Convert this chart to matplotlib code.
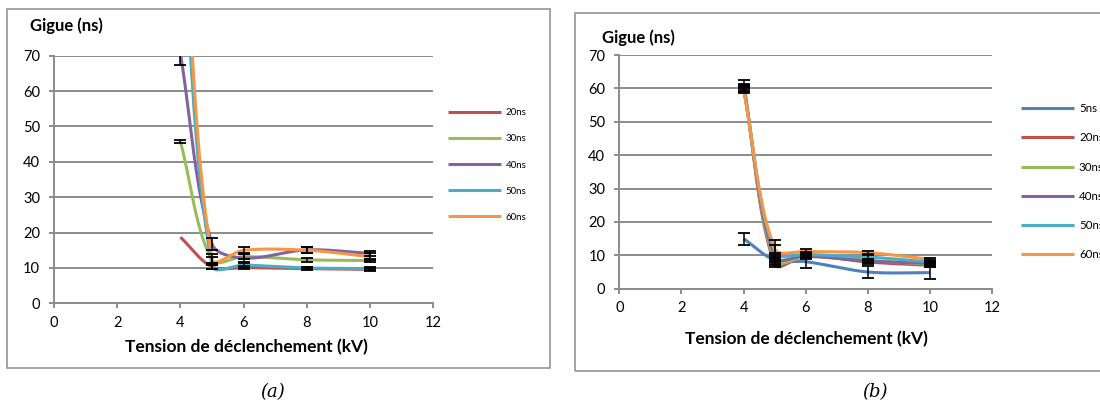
import numpy as np
import matplotlib
matplotlib.use("Agg")
import matplotlib.pyplot as plt
from matplotlib.patches import Rectangle

plt.rcParams['font.family'] = ['Lato', 'DejaVu Sans']

# ---------------- data ----------------
voltage = [4, 5, 6, 8, 10]

# panel (a)
labels_a = ["20ns", "30ns", "40ns", "50ns", "60ns"]
a_20 = [18.7, 10.3, 10.1, 9.8, 9.6]
a_30 = [45.7, 12.2, 13.2, 12.3, 12.1]
a_40 = [70.5, 16.8, 12.8, 15.1, 14.1]
a_50 = [110.0, 10.6, 10.8, 10.0, 9.8]
a_60 = [125.0, 12.4, 15.0, 15.0, 13.2]
e_a20 = [np.nan, 0.6, 0.5, 0.4, 0.4]
e_a30 = [0.5, 0.8, 0.8, 0.5, 0.5]
e_a40 = [3.0, 1.8, 1.0, 0.8, 0.8]
e_a50 = [2.0, 0.8, 0.7, 0.4, 0.5]
e_a60 = [2.0, 1.5, 0.8, 0.8, 0.9]

# panel (b)
labels_b = ["5ns", "20ns", "30ns", "40ns", "50ns", "60ns"]
b_5 = [15.0, 8.6, 8.1, 5.0, 4.8]
b_20 = [61.5, 7.3, 9.8, 8.0, 7.0]
b_30 = [60.5, 8.3, 9.6, 8.5, 7.3]
b_40 = [60.0, 9.5, 9.8, 8.3, 7.6]
b_50 = [60.0, 11.0, 10.3, 9.5, 8.0]
b_60 = [59.5, 12.0, 11.2, 10.8, 8.8]
e_b5 = [1.8, 1.5, 1.9, 1.8, 1.8]
e_b20 = [1.0, 0.8, 0.6, 0.6, 0.6]
e_b30 = [0.8, 1.0, 0.6, 0.5, 0.6]
e_b40 = [0.8, 1.2, 0.7, 0.6, 0.6]
e_b50 = [1.0, 2.0, 0.8, 0.6, 0.7]
e_b60 = [0.8, 2.5, 0.6, 0.5, 0.5]

xticks = [0, 2, 4, 6, 8, 10, 12]
yticks = [0, 10, 20, 30, 40, 50, 60, 70]
ylabel_txt = "Gigue (ns)"
xlabel_txt = "Tension de déclenchement (kV)"

C = {"5ns": "#4F81BD", "20ns": "#C0504D", "30ns": "#9BBB59",
     "40ns": "#8064A2", "50ns": "#4BACC6", "60ns": "#F79646"}
GRID = "#8c8c8c"

W, H = 1100, 405
fig = plt.figure(figsize=(W / 100, H / 100), dpi=100)


def fx(px):
    return px / W


def fy(py):
    return 1 - py / H


def smooth(ax, x, y, n=40):
    pts = ax.transData.transform(np.column_stack([x, y]).astype(float))
    N = len(pts)
    out = []
    for i in range(N - 1):
        p0 = pts[i - 1] if i > 0 else pts[i]
        p1 = pts[i]
        p2 = pts[i + 1]
        p3 = pts[i + 2] if i + 2 < N else pts[i + 1]
        d01 = np.linalg.norm(p1 - p0)
        d12 = np.linalg.norm(p2 - p1)
        d23 = np.linalg.norm(p3 - p2)
        f1 = (1 / 3) * d12 / (d01 + d12) if (d01 + d12) > 0 else 0
        f2 = (1 / 3) * d12 / (d12 + d23) if (d12 + d23) > 0 else 0
        c1 = p1 + (p2 - p0) * f1
        c2 = p2 - (p3 - p1) * f2
        t = np.linspace(0, 1, n)[:, None]
        seg = ((1 - t) ** 3) * p1 + 3 * ((1 - t) ** 2) * t * c1 + 3 * (1 - t) * t ** 2 * c2 + t ** 3 * p2
        out.append(seg if i == 0 else seg[1:])
    disp = np.vstack(out)
    dat = ax.transData.inverted().transform(disp)
    return dat[:, 0], dat[:, 1]


def setup(ax):
    ax.set_xlim(0, 12)
    ax.set_ylim(0, 70)
    ax.set_xticks(xticks)
    ax.set_yticks(yticks)
    for s in ["top", "right"]:
        ax.spines[s].set_visible(False)
    for s in ["left", "bottom"]:
        ax.spines[s].set_color(GRID)
        ax.spines[s].set_linewidth(1.4)
    ax.yaxis.grid(True, color=GRID, linewidth=1.4)
    ax.set_axisbelow(True)
    ax.tick_params(axis="both", colors=GRID, labelcolor="black", labelsize=10.5,
                   length=3.6, width=1.4, direction="out")
    ax.tick_params(axis="x", pad=5.5)
    ax.tick_params(axis="y", pad=6.5)
    ax.patch.set_alpha(0)


# frames
fig.add_artist(Rectangle((fx(7), fy(368)), fx(550) - fx(7), fy(9.3) - fy(368),
                         transform=fig.transFigure, fill=False, edgecolor=GRID, lw=1.1))
fig.add_artist(Rectangle((fx(575), fy(370.7)), fx(1115) - fx(575), fy(13.3) - fy(370.7),
                         transform=fig.transFigure, fill=False, edgecolor=GRID, lw=1.1))

ax1 = fig.add_axes([fx(54), fy(303.3), fx(433.3) - fx(54), fy(55.7) - fy(303.3)])
ax2 = fig.add_axes([fx(619.3), fy(288.7), fx(992.2) - fx(619.3), fy(55.1) - fy(288.7)])
setup(ax1)
setup(ax2)

LW = 2.2
series_a = [a_20, a_30, a_40, a_50, a_60]
errs_a = [e_a20, e_a30, e_a40, e_a50, e_a60]
for lab, ys in zip(labels_a, series_a):
    sx, sy = smooth(ax1, voltage, ys)
    ax1.plot(sx, sy, color=C[lab], lw=LW, label=lab, solid_capstyle="butt", zorder=3)
for ys, es in zip(series_a, errs_a):
    ax1.errorbar(voltage, ys, yerr=es, fmt="none", ecolor="black", elinewidth=1.1,
                 capsize=4, capthick=1.3, zorder=4)

series_b = [b_5, b_20, b_30, b_40, b_50, b_60]
errs_b = [e_b5, e_b20, e_b30, e_b40, e_b50, e_b60]
for lab, ys in zip(labels_b, series_b):
    sx, sy = smooth(ax2, voltage, ys)
    ax2.plot(sx, sy, color=C[lab], lw=LW, label=lab, solid_capstyle="butt", zorder=3)
for ys, es in zip(series_b, errs_b):
    ax2.errorbar(voltage, ys, yerr=es, fmt="none", ecolor="black", elinewidth=1.1,
                 capsize=4, capthick=1.3, zorder=4)

# legends
fs_a = 7.0
ax1.legend(loc="center left", bbox_to_anchor=(fx(447.7), fy(165)), bbox_transform=fig.transFigure,
           frameon=False, fontsize=fs_a, handlelength=53 / (fs_a * 100 / 72),
           handletextpad=0.5, labelspacing=1.76, borderpad=0, borderaxespad=0)
fs_b = 8.3
ax2.legend(loc="center left", bbox_to_anchor=(fx(1021), fy(181.7)), bbox_transform=fig.transFigure,
           frameon=False, fontsize=fs_b, handlelength=53 / (fs_b * 100 / 72),
           handletextpad=0.43, labelspacing=1.58, borderpad=0, borderaxespad=0)

# titles & labels
fig.text(fx(30.3), fy(26), ylabel_txt, fontsize=12, fontweight="bold", ha="left", va="center")
fig.text(fx(602), fy(37.3), ylabel_txt, fontsize=12, fontweight="bold", ha="left", va="center")
fig.text(fx(246), fy(346.7), xlabel_txt, fontsize=12.5, fontweight="bold", ha="center", va="center")
fig.text(fx(806), fy(339.3), xlabel_txt, fontsize=12.5, fontweight="bold", ha="center", va="center")

fig.text(fx(273), fy(391.7), "(a)", fontsize=13, fontstyle="italic", family="DejaVu Serif",
         ha="center", va="center")
fig.text(fx(875), fy(392), "(b)", fontsize=13, fontstyle="italic", family="DejaVu Serif",
         ha="center", va="center")

fig.savefig("out.png", dpi=100)
